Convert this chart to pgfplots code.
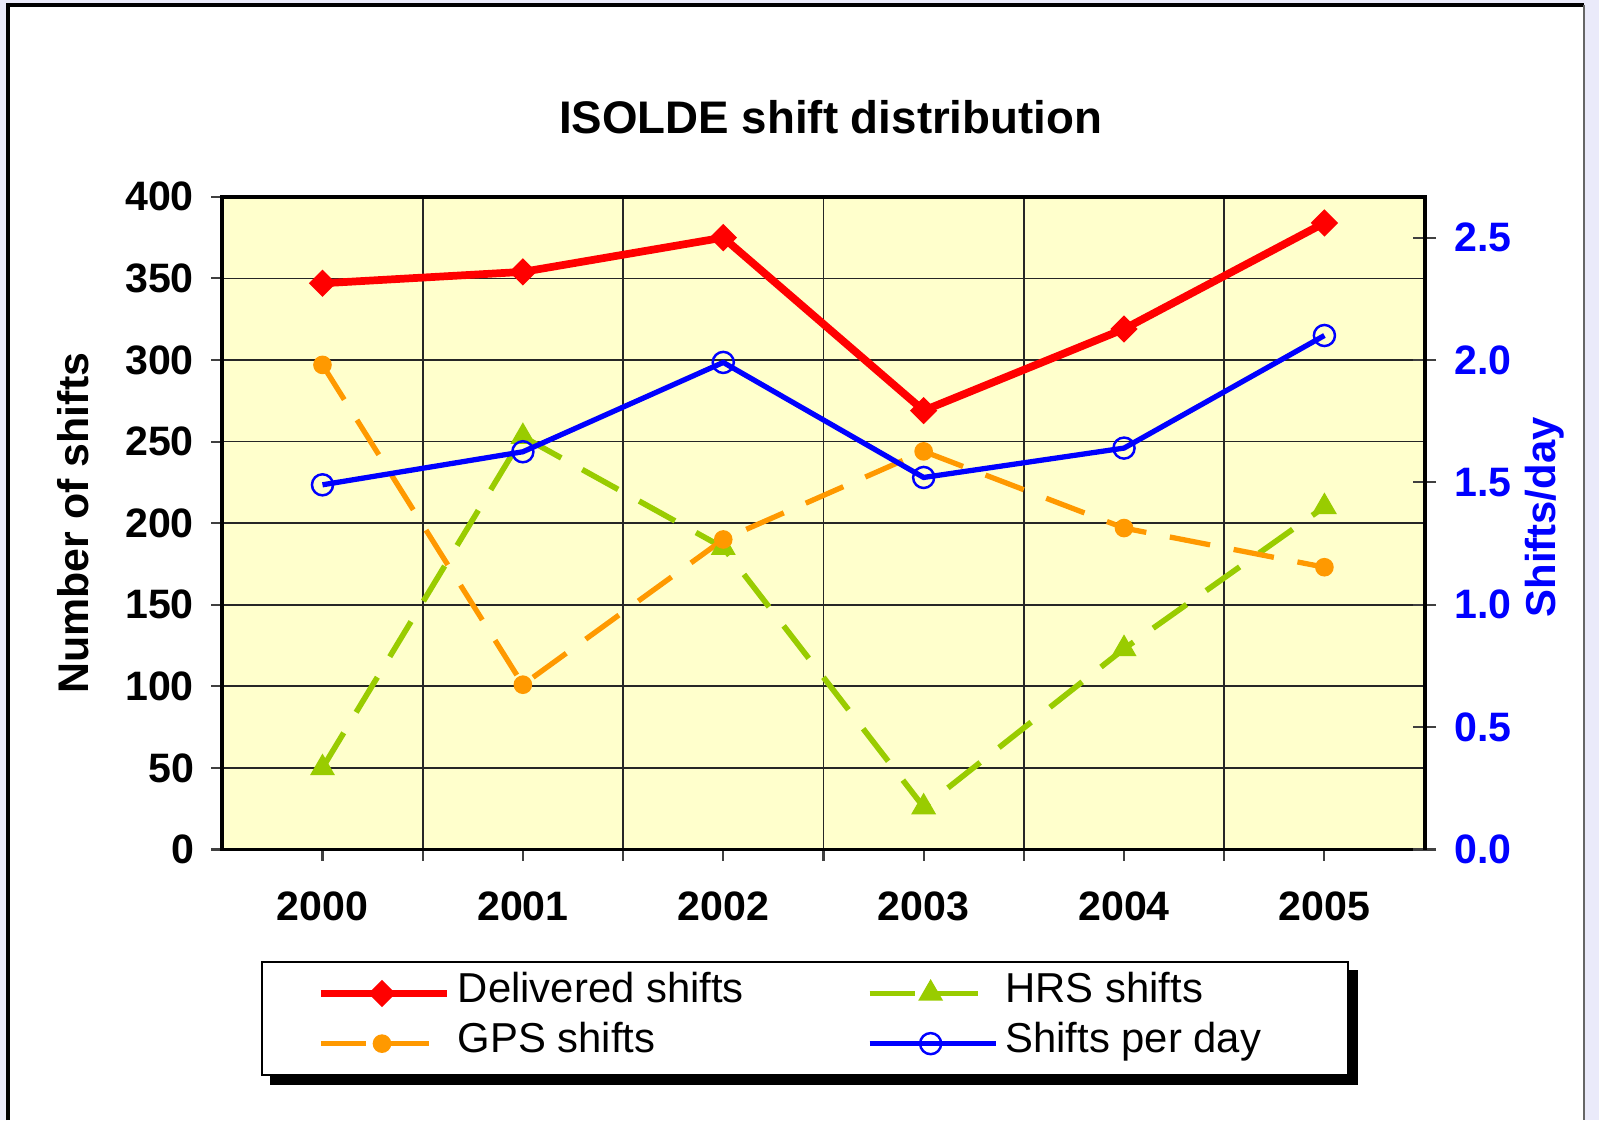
\documentclass[border=0pt]{standalone}
\usepackage{fontspec}
\setmainfont{Liberation Sans}
\usepackage{pgfplots}
\pgfplotsset{compat=1.18}
\definecolor{bgyellow}{RGB}{255,255,204}
\definecolor{dred}{RGB}{255,0,0}
\definecolor{dorange}{RGB}{255,153,0}
\definecolor{dgreen}{RGB}{153,204,0}
\definecolor{dblue}{RGB}{0,0,255}
\definecolor{framec}{RGB}{234,234,250}
\pgfdeclarelayer{bglayer}
\pgfdeclarelayer{shadowlayer}
\pgfsetlayers{bglayer,shadowlayer,main}

\pgfplotsset{
  solidleg/.style={legend image code/.code={
      \draw[mark repeat=2,mark phase=2,##1] plot coordinates {(0cm,0cm) (0.61cm,0cm) (1.26cm,0cm)};}},
  dashleg/.style={legend image code/.code={
      \path (0cm,0cm) -- (1.26cm,0cm);
      \draw[##1, dash pattern=on 0.4cm off 0.2cm on 0.43cm off 1cm] (0.05cm,0cm) -- (1.08cm,0cm);
      \draw[##1] plot coordinates {(0.61cm,0cm)};}},
  delivered/.style={dred, line width=2.2pt, mark=square*, mark size=2.5pt, mark options={solid, rotate=45, line width=0.5pt}, solidleg},
  gps/.style={dorange, line width=1.5pt, dash pattern=on 0.41cm off 0.24cm, mark=*, mark size=2.4pt, mark options={solid, line width=0.5pt}, dashleg},
  hrs/.style={dgreen, line width=1.6pt, dash pattern=on 0.41cm off 0.24cm, mark=triangle*, mark size=3.6pt, mark options={solid, line width=0.5pt}, dashleg},
  perday/.style={dblue, line width=1.5pt, mark=o, mark size=3pt, mark options={solid, line width=0.7pt}, solidleg},
  every axis/.append style={
    scale only axis, width=12.023cm, height=6.527cm,
    at={(2.223cm,2.705cm)}, anchor=south west,
    xmin=-0.5, xmax=5.5,
    tick label style={font=\bfseries\fontsize{11.7}{13}\selectfont},
    /pgf/number format/assume math mode=true,
  },
}

\begin{document}
\begin{tikzpicture}[x=1cm,y=1cm]
\begin{pgfonlayer}{bglayer}
\fill[framec] (0,0) rectangle (15.99,11.20);
\fill[white] (0.08,0) rectangle (15.84,11.15);
\draw[black, line width=1pt] (0.08,0) -- (0.08,11.15) -- (15.84,11.15);
\draw[black!60, line width=0.6pt] (15.84,11.15) -- (15.84,0);
\end{pgfonlayer}
\path[use as bounding box] (0,0) rectangle (15.99,11.20);

\begin{axis}[
  ymin=0, ymax=400, ytick={0,50,...,400},
  xtick={0,...,5}, xticklabels={2000,2001,2002,2003,2004,2005},
  minor xtick={0.5,1.5,...,4.5},
  xtick pos=left, ytick pos=left,
  ymajorgrids, xminorgrids,
  grid style={black!85, line width=0.5pt},
  minor grid style={black!85, line width=0.5pt},
  axis background/.style={fill=bgyellow},
  axis line style={black, line width=1.1pt},
  tick align=outside, major tick length=0.11cm, minor tick length=0.11cm,
  tick style={black!75, line width=0.6pt},
  minor tick style={black!75, line width=0.6pt},
  xticklabel style={yshift=-0.19cm},
  yticklabel style={xshift=-0.05cm},
  ylabel={Number of shifts},
  ylabel style={font=\bfseries\fontsize{12.2}{14}\selectfont, at={(axis description cs:-0.124,0.5)}, anchor=center},
  title={ISOLDE shift distribution},
  title style={font=\bfseries\fontsize{13}{15}\selectfont, at={(axis description cs:0.506,1.090)}, anchor=center},
]
\addplot[delivered] coordinates {(0,347) (1,354) (2,375) (3,269) (4,319) (5,384)};
\addplot[hrs] coordinates {(0,50) (1,253) (2,185) (3,26) (4,123) (5,210)};
\addplot[gps] coordinates {(0,297) (1,101) (2,190) (3,244) (4,197) (5,173)};
\end{axis}

\begin{axis}[
  axis x line=none, axis y line*=right,
  ymin=0, ymax=2.6667, ytick={0,0.5,1,1.5,2,2.5},
  tick align=center, major tick length=0.23cm,
  tick style={black!75, line width=0.6pt},
  axis line style={black, line width=1.1pt},
  yticklabel style={dblue, xshift=0.06cm, /pgf/number format/fixed, /pgf/number format/fixed zerofill, /pgf/number format/precision=1},
  ylabel={Shifts/day},
  ylabel style={dblue, font=\bfseries\fontsize{11.9}{14}\selectfont, at={(axis description cs:1.0998,0.509)}, anchor=center},
  legend columns=2,
  legend cell align=left,
  legend style={name=leg, at={(axis description cs:0.0324,-0.1708)}, anchor=north west,
    draw=black, line width=0.5pt, fill=white,
    font=\fontsize{11.9}{13}\selectfont,
    inner xsep=0.55cm, inner ysep=0.105cm, row sep=0.08cm,
    nodes={inner xsep=2pt, inner ysep=1pt, text height=0.75em, text depth=0.25em},
    /tikz/every even column/.append style={column sep=1.16cm}},
]
\addlegendimage{delivered}
\addlegendentry{Delivered shifts}
\addlegendimage{hrs}
\addlegendentry{HRS shifts}
\addlegendimage{gps}
\addlegendentry{GPS shifts}
\addplot[perday] coordinates {(0,1.49) (1,1.625) (2,1.99) (3,1.52) (4,1.64) (5,2.10)};
\addlegendentry{Shifts per day\hspace*{0.25cm}}
\end{axis}
\begin{pgfonlayer}{shadowlayer}
\fill[black] ([xshift=0.09cm,yshift=-0.09cm]leg.south west) rectangle ([xshift=0.09cm,yshift=-0.09cm]leg.north east);
\end{pgfonlayer}
\end{tikzpicture}
\end{document}
